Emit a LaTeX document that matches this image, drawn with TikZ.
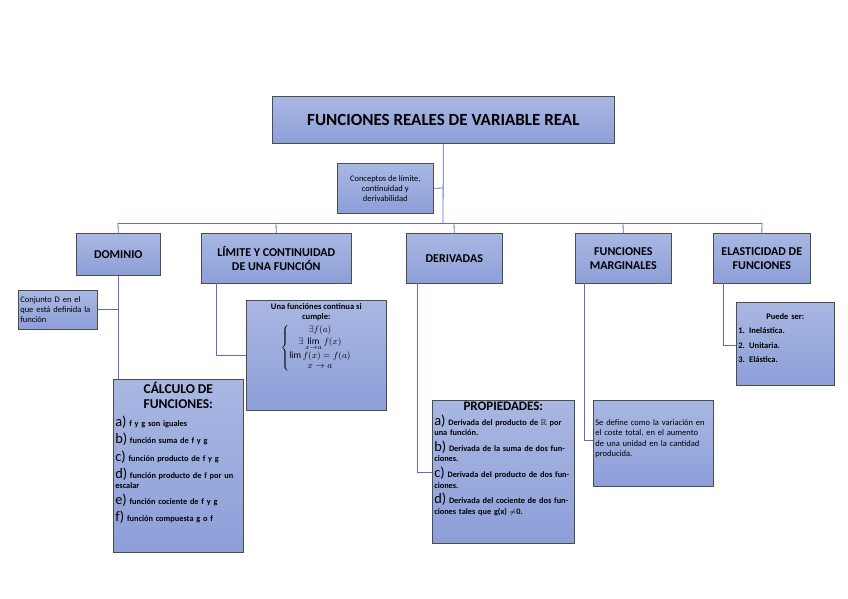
\documentclass[tikz,border=0pt]{standalone}
\usepackage{fontspec}
\setmainfont{Carlito}
\usepackage{amsmath,amssymb}
\begin{document}
\begin{tikzpicture}[x=1pt,y=-1pt,
 ln/.style={draw=blue!50!gray!80,line width=0.8pt}]
\definecolor{ltb}{HTML}{A9B7E2}\definecolor{dkb}{HTML}{8C9FD8}
\tikzset{bx/.style={draw=black!70,line width=0.6pt,top color=ltb,bottom color=dkb,inner sep=2pt,align=center,anchor=north west},
 tx/.style={anchor=north,inner sep=1pt,align=left}}
\useasboundingbox (0,0) rectangle (848,599);
\node[bx,minimum width=342,minimum height=47] (t) at (272,96) {\fontsize{17}{19}\selectfont\bfseries FUNCIONES REALES DE VARIABLE REAL};
\node[bx,minimum width=96,minimum height=50,font=\fontsize{8.5}{10}\selectfont] (c) at (337,163) {Conceptos de límite,\\continuidad y\\derivabilidad};
\node[bx,minimum width=84,minimum height=42,font=\fontsize{12}{14}\selectfont\bfseries] (dom) at (76,233) {DOMINIO};
\node[bx,minimum width=150,minimum height=50,font=\fontsize{12}{14}\selectfont\bfseries] (lim) at (201,233) {LÍMITE Y CONTINUIDAD\\DE UNA FUNCIÓN};
\node[bx,minimum width=96,minimum height=50,font=\fontsize{12}{14}\selectfont\bfseries] (der) at (406,233) {DERIVADAS};
\node[bx,minimum width=96,minimum height=50,font=\fontsize{12}{14}\selectfont\bfseries] (mar) at (575,233) {FUNCIONES\\MARGINALES};
\node[bx,minimum width=97,minimum height=50,font=\fontsize{12}{14}\selectfont\bfseries] (ela) at (713,233) {ELASTICIDAD DE\\FUNCIONES};
\node[bx,minimum width=79,minimum height=39,align=left,text width=75,font=\fontsize{8.5}{10}\selectfont] (cd) at (18,290) {Conjunto D en el que está definida la función};
% limit box
\node[bx,minimum width=140,minimum height=110] (lc) at (246,300) {};
\node[tx,align=center,font=\fontsize{8.5}{10.5}\selectfont\bfseries] (lct) at ([yshift=-2]lc.north) {Una funciónes continua si\\cumple:};
\node[anchor=north,inner sep=0pt,font=\fontsize{9.5}{11}\selectfont] (lcm) at ([yshift=-2]lct.south) {$\left\{\begin{array}{@{}c@{}}\exists f(a)\\[1pt] \exists\lim\limits_{x\to a} f(x)\\[1pt] \lim f(x)=f(a)\\[-1pt] x\to a\end{array}\right.$};
% calculo
\node[bx,minimum width=130,minimum height=173] (cal) at (113,379) {};
\node[tx,text width=126,font=\fontsize{8.3}{10}\selectfont\bfseries] (calt) at ([yshift=-2]cal.north) {{\centering\fontsize{13.5}{15}\selectfont CÁLCULO DE\\FUNCIONES:\par}\vspace{6pt}
{\normalfont\Large a)} f y g son iguales\\[4pt]
{\normalfont\Large b)} función suma de f y g\\[4pt]
{\normalfont\Large c)} función producto de f y g\\[4pt]
{\normalfont\Large d)} función producto de f por un escalar\\[4pt]
{\normalfont\Large e)} función cociente de f y g\\[4pt]
{\normalfont\Large f)} función compuesta g o f};
% propiedades
\node[bx,minimum width=142,minimum height=143] (pro) at (432,400) {};
\node[tx,text width=138,font=\fontsize{8.3}{10.5}\selectfont\bfseries] (prot) at ([yshift=-1]pro.north) {{\centering\fontsize{13}{15}\selectfont PROPIEDADES:\par}\vspace{3pt}
{\normalfont\Large a)} Derivada del producto de $\mathbb{R}$ por una función.\\[4pt]
{\normalfont\Large b)} Derivada de la suma de dos funciones.\\[4pt]
{\normalfont\Large c)} Derivada del producto de dos funciones.\\[4pt]
{\normalfont\Large d)} Derivada del cociente de dos funciones tales que g(x) $\neq$0.};
% se define
\node[bx,minimum width=120,minimum height=86] (sd) at (593,400) {};
\node[tx,text width=116,font=\fontsize{8.5}{10.5}\selectfont] (sdt) at ([yshift=-18]sd.north) {Se define como la variación en el coste total, en el aumento de una unidad en la cantidad producida.};
% puede ser
\node[bx,minimum width=98,minimum height=83] (ps) at (736,302) {};
\node[tx,text width=94,font=\fontsize{8.5}{14.5}\selectfont\bfseries] (pst) at ([yshift=-10]ps.north) {{\centering Puede ser:\par}1. Inelástica.\\ 2. Unitaria.\\ 3. Elástica.};
\coordinate (j) at (443,223);
\draw[ln] (t.south) -- (j);
\draw[ln] (c.east) -- (443,188);
\draw[ln] (118,223) -- (762,223);
\draw[ln] (118,223) -- (dom.north);
\draw[ln] (276,223) -- (lim.north);
\draw[ln] (454,223) -- (der.north);
\draw[ln] (623,223) -- (mar.north);
\draw[ln] (762,223) -- (ela.north);
\draw[ln] (dom.south) -- (cal.north -| dom.south);
\draw[ln] (cd.east) -- (cd.east -| dom.south);
\draw[ln] (216,283) |- (lc.west |- 0,355);
\draw[ln] (417,283) |- (pro.west |- 0,472);
\draw[ln] (584,283) |- (sd.west |- 0,440);
\draw[ln] (723,283) |- (ps.west |- 0,345);
\end{tikzpicture}
\end{document}
